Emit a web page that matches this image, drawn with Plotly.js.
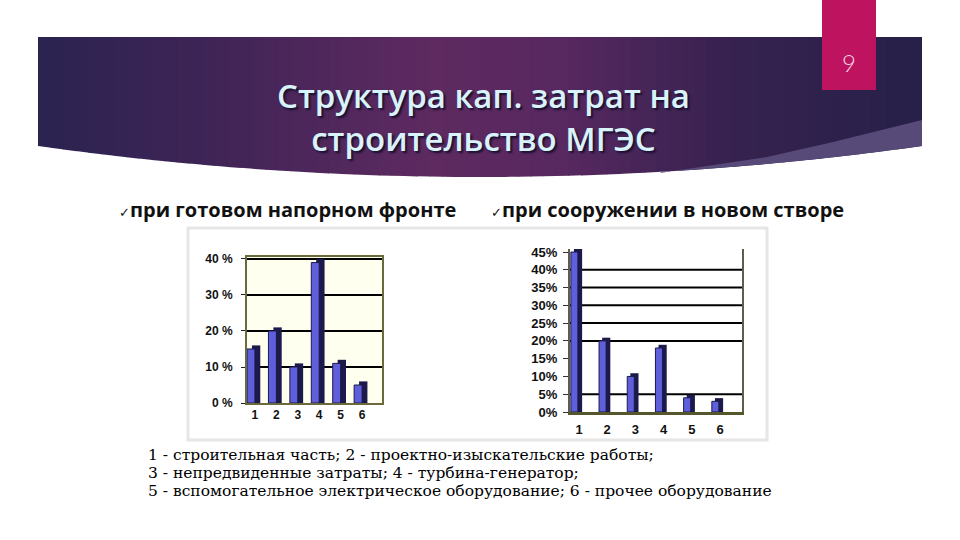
<!DOCTYPE html>
<html>
<head>
<meta charset="utf-8">
<script src="https://cdn.plot.ly/plotly-3.0.1.min.js"></script>
<style>
  html, body { margin: 0; padding: 0; background: #fff; }
  #slide { width: 960px; height: 540px; }
</style>
</head>
<body>
<div id="slide"></div>
<script>
// categories and shares (%)
var categories = [1, 2, 3, 4, 5, 6];
var leftShares = [15, 20, 10, 39, 11, 5];    // при готовом напорном фронте
var rightShares = [45, 20, 10, 18, 4, 3];    // при сооружении в новом створе

var leftTicks = [0, 10, 20, 30, 40];
var rightTicks = [0, 5, 10, 15, 20, 25, 30, 35, 40, 45];
var rightGrid = [5, 20, 25, 30, 35, 40];

var titleLines = ['Структура кап. затрат на', 'строительство МГЭС'];
var bullets = ['при готовом напорном фронте', 'при сооружении в новом створе'];
var captionLines = [
  '1 - строительная часть; 2 - проектно-изыскательские работы;',
  '3 - непредвиденные затраты; 4 - турбина-генератор;',
  '5 - вспомогательное электрическое оборудование; 6 - прочее оборудование'
];

// pixel -> paper helpers
function px(x) { return x / 960; }
function py(y) { return 1 - y / 540; }

var frontColor = '#5f5fdc';
var sideColor = '#1b1a4a';

// Bars: a dark "depth" bar behind, blue front face on top

var traces = [
  {
    x: categories, y: leftShares.map(function(v) { return v + 1; }),
    xaxis: 'x', yaxis: 'y', type: 'bar',
    offset: -0.14, width: 0.39,
    marker: {color: sideColor}, hoverinfo: 'skip'
  },
  {
    x: categories, y: leftShares,
    xaxis: 'x', yaxis: 'y', type: 'bar',
    offset: -0.37, width: 0.37,
    marker: {color: frontColor, line: {color: sideColor, width: 1}}
  },
  {
    x: categories, y: rightShares.map(function(v) { return v + 0.9; }),
    xaxis: 'x2', yaxis: 'y2', type: 'bar',
    offset: -0.18, width: 0.29,
    marker: {color: sideColor}, hoverinfo: 'skip'
  },
  {
    x: categories, y: rightShares,
    xaxis: 'x2', yaxis: 'y2', type: 'bar',
    offset: -0.29, width: 0.25,
    marker: {color: frontColor, line: {color: sideColor, width: 1}}
  }
];

// Banner with horizontal gradient built from thin slices

var stops = [
  [38, [42, 35, 80]], [200, [62, 36, 86]], [430, [94, 42, 96]],
  [560, [88, 40, 96]], [720, [56, 34, 80]], [922, [38, 32, 72]]
];

function colorAt(x) {
  for (var i = 0; i < stops.length - 1; i++) {
    var a = stops[i], b = stops[i + 1];
    if (x >= a[0] && x <= b[0]) {
      var t = (x - a[0]) / (b[0] - a[0]);
      var c = a[1].map(function(v, k) { return Math.round(v + (b[1][k] - v) * t); });
      return 'rgb(' + c.join(',') + ')';
    }
  }
  return 'rgb(38,32,72)';
}

function bannerBottom(x) {
  return 177 - 0.0001587 * (x - 480) * (x - 480);
}

var shapes = [];
var slices = 70;
for (var s = 0; s < slices; s++) {
  var x0 = 38 + (922 - 38) * s / slices;
  var x1 = 38 + (922 - 38) * (s + 1) / slices;
  var x1b = Math.min(x1 + 0.8, 922);
  shapes.push({
    type: 'path', xref: 'paper', yref: 'paper', layer: 'below',
    path: 'M' + px(x0) + ',' + py(37) + ' L' + px(x1b) + ',' + py(37) +
          ' L' + px(x1b) + ',' + py(bannerBottom(x1b)) +
          ' L' + px(x0) + ',' + py(bannerBottom(x0)) + ' Z',
    fillcolor: colorAt((x0 + x1) / 2), line: {width: 0}
  });
}

// lighter band at right bottom of the banner
var bandTop = [[660, 173], [767, 157], [833, 142], [922, 120]];
var bandPath = 'M' + bandTop.map(function(p) { return px(p[0]) + ',' + py(p[1]); }).join(' L');
for (var bx = 922; bx >= 660; bx -= 20) {
  bandPath += ' L' + px(bx) + ',' + py(bannerBottom(bx));
}
bandPath += ' Z';
shapes.push({
  type: 'path', xref: 'paper', yref: 'paper', layer: 'below',
  path: bandPath, fillcolor: '#574a78', line: {width: 0}
});

// slide number tab
shapes.push({
  type: 'rect', xref: 'paper', yref: 'paper', layer: 'below',
  x0: px(822), x1: px(876), y0: py(90), y1: py(0),
  fillcolor: '#be135e', line: {width: 0}
});

// frame around the charts
shapes.push({
  type: 'rect', xref: 'paper', yref: 'paper', layer: 'below',
  x0: px(188), x1: px(767), y0: py(440), y1: py(228),
  fillcolor: '#ffffff', line: {color: '#e6e6e6', width: 3}
});

// left plot background
shapes.push({
  type: 'rect', xref: 'x domain', yref: 'y domain', layer: 'below',
  x0: 0, x1: 1, y0: 0, y1: 1,
  fillcolor: '#fffff0', line: {width: 0}
});

// right chart gridlines (only those visible in the picture)
rightGrid.forEach(function(v) {
  shapes.push({
    type: 'line', xref: 'x2 domain', yref: 'y2', layer: 'below',
    x0: 0, x1: 1, y0: v, y1: v,
    line: {color: '#000', width: 2}
  });
});

// Texts

var annotations = [];
annotations.push({
  text: titleLines.join('<br>'), xref: 'paper', yref: 'paper', showarrow: false,
  x: px(483), y: py(116.5), xanchor: 'center', yanchor: 'middle', align: 'center',
  font: {family: 'Open Sans', size: 33, weight: 600, color: '#d9f3fb',
         shadow: '2px 2px 2px #1a1030'}
});

annotations.push({
  text: '9', xref: 'paper', yref: 'paper', showarrow: false,
  x: px(849), y: py(62), xanchor: 'center', yanchor: 'middle',
  font: {family: 'Lato', size: 24, weight: 300, color: '#f6d6e6'}
});

var bulletX = [117, 489];
bullets.forEach(function(t, i) {
  annotations.push({
    text: '<span style="font-size:13px;font-weight:400">✓</span>' + t,
    xref: 'paper', yref: 'paper', showarrow: false,
    x: px(bulletX[i]), y: py(209), xanchor: 'left', yanchor: 'middle',
    font: {family: 'Open Sans', size: 20, weight: 700, color: '#111'}
  });
});

captionLines.forEach(function(t, i) {
  annotations.push({
    text: t, xref: 'paper', yref: 'paper', showarrow: false,
    x: px(146), y: py(455 + 18 * i), xanchor: 'left', yanchor: 'middle',
    font: {family: 'DejaVu Serif', size: 15.5, color: '#000'}
  });
});

// Layout

var layout = {
  width: 960, height: 540,
  margin: {l: 0, r: 0, t: 0, b: 0},
  paper_bgcolor: '#ffffff',
  plot_bgcolor: 'rgba(0,0,0,0)',
  showlegend: false,
  barmode: 'overlay',
  xaxis: {
    domain: [px(247), px(382)], anchor: 'y',
    range: [0.63, 6.93], tickvals: categories,
    showgrid: false, zeroline: false,
    showline: true, mirror: true, linecolor: '#6a6a3c', linewidth: 2,
    ticks: '', ticklabelstandoff: 0,
    tickfont: {family: 'Liberation Sans', size: 12, weight: 700, color: '#111'}
  },
  yaxis: {
    domain: [py(403), py(257)], anchor: 'x',
    range: [0, 40.55], tickvals: leftTicks,
    ticktext: leftTicks.map(function(v) { return v + ' %'; }),
    showgrid: true, gridcolor: '#000', gridwidth: 2, zeroline: false,
    showline: true, mirror: true, linecolor: '#6a6a3c', linewidth: 2,
    ticks: 'outside', ticklen: 4, tickcolor: '#222', ticklabelstandoff: 6,
    tickfont: {family: 'Liberation Sans', size: 12, weight: 700, color: '#111'}
  },
  xaxis2: {
    domain: [px(570), px(742)], anchor: 'y2',
    range: [0.68, 6.78], tickvals: categories,
    showgrid: false, zeroline: false,
    showline: true, linecolor: '#56562c', linewidth: 3,
    ticks: '', ticklabelstandoff: 3,
    tickfont: {family: 'Liberation Sans', size: 13, weight: 700, color: '#111'}
  },
  yaxis2: {
    domain: [py(412), py(249)], anchor: 'x2',
    range: [0, 45.85], tickvals: rightTicks,
    ticktext: rightTicks.map(function(v) { return v + '%'; }),
    showgrid: false, zeroline: false,
    showline: true, mirror: true, linecolor: '#5e5e4a', linewidth: 2,
    ticks: 'outside', ticklen: 5, tickcolor: '#333', ticklabelstandoff: 3,
    tickfont: {family: 'Liberation Sans', size: 13, weight: 700, color: '#111'}
  },
  shapes: shapes,
  annotations: annotations
};

Plotly.newPlot('slide', traces, layout, {staticPlot: true, displayModeBar: false});
</script>
</body>
</html>
